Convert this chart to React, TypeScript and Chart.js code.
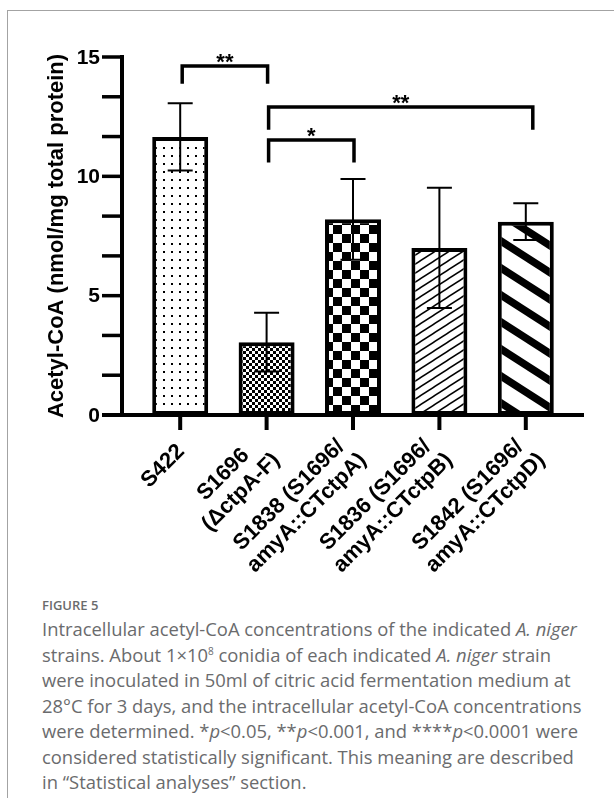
import React, { useEffect, useRef } from "react";
import { Chart, registerables } from "chart.js";
Chart.register(...registerables);

// ---- data ----
const categories: string[][] = [
  ["S422"],
  ["S1696", "(ΔctpA-F)"],
  ["S1838 (S1696/", "amyA::CTctpA)"],
  ["S1836 (S1696/", "amyA::CTctpB)"],
  ["S1842 (S1696/", "amyA::CTctpD)"],
];
const means = [11.65, 3.05, 8.2, 7.0, 8.1];
const sds = [1.41, 1.23, 1.69, 2.52, 0.77];
const yTickLabels = [0, 5, 10, 15];
const yMinorPerMajor = 3;
const yMax = 15;
const yTitle = "Acetyl-CoA (nmol/mg total protein)";
// significance brackets
const bracketFrom = [0, 1, 1];
const bracketTo = [1, 4, 2];
const bracketLevel = [14.62, 12.9, 11.52];
const bracketLegEnd = [13.88, 11.95, 10.58];
const bracketLabels = ["**", "**", "*"];

const FONT = '"Liberation Sans", Arial, sans-serif';

function tile(w: number, h: number, draw: (c: CanvasRenderingContext2D) => void) {
  const cv = document.createElement("canvas");
  cv.width = w;
  cv.height = h;
  const c = cv.getContext("2d")!;
  c.fillStyle = "#fff";
  c.fillRect(0, 0, w, h);
  c.fillStyle = "#000";
  c.strokeStyle = "#000";
  draw(c);
  return cv;
}

function makePatterns(ctx: CanvasRenderingContext2D) {
  const dots = tile(8, 8, (c) => c.fillRect(3, 3, 2, 2));
  const fine = tile(6, 6, (c) => {
    c.fillRect(0, 0, 3, 3);
    c.fillRect(3, 3, 3, 3);
  });
  const coarse = tile(18, 18, (c) => {
    c.fillRect(0, 0, 9, 9);
    c.fillRect(9, 9, 9, 9);
  });
  const thin = tile(14, 9, (c) => {
    c.lineWidth = 1.5;
    for (const dy of [-9, 0, 9]) {
      c.beginPath();
      c.moveTo(-14, 18 + dy);
      c.lineTo(28, -9 + dy);
      c.stroke();
    }
  });
  const thick = tile(42, 27, (c) => {
    c.lineWidth = 7.5;
    for (const dy of [-27, 0, 27]) {
      c.beginPath();
      c.moveTo(-42, -27 + dy);
      c.lineTo(84, 54 + dy);
      c.stroke();
    }
  });
  return [dots, fine, coarse, thin, thick].map((t) => ctx.createPattern(t, "repeat")!);
}

const overlay = {
  id: "overlay",
  afterDatasetsDraw(chart: any) {
    const { ctx, chartArea } = chart;
    const x = chart.scales.x;
    const y = chart.scales.y;
    const y0 = y.getPixelForValue(0);
    const axisX = chartArea.left - 15;
    const axisRight = chartArea.right + 15;
    ctx.save();
    ctx.strokeStyle = "#000";
    ctx.fillStyle = "#000";
    ctx.lineCap = "butt";

    // error bars
    ctx.lineWidth = 2;
    means.forEach((m, i) => {
      const cx = x.getPixelForValue(i);
      const t = y.getPixelForValue(m + sds[i]);
      const b = y.getPixelForValue(m - sds[i]);
      ctx.beginPath();
      ctx.moveTo(cx, t);
      ctx.lineTo(cx, b);
      ctx.moveTo(cx - 12.5, t);
      ctx.lineTo(cx + 12.5, t);
      ctx.moveTo(cx - 12.5, b);
      ctx.lineTo(cx + 12.5, b);
      ctx.stroke();
    });

    // y axis
    ctx.lineWidth = 4;
    ctx.beginPath();
    ctx.moveTo(axisX, y.getPixelForValue(yMax) - 2);
    ctx.lineTo(axisX, y0 + 2);
    ctx.stroke();
    const step = (yTickLabels[1] - yTickLabels[0]) / yMinorPerMajor;
    ctx.lineWidth = 3.5;
    for (let v = 0; v <= yMax + 1e-6; v += step) {
      const py = y.getPixelForValue(v);
      ctx.beginPath();
      ctx.moveTo(axisX - 20, py);
      ctx.lineTo(axisX, py);
      ctx.stroke();
    }
    ctx.font = `bold 21px ${FONT}`;
    ctx.textAlign = "right";
    ctx.textBaseline = "middle";
    yTickLabels.forEach((v) => {
      ctx.fillText(String(v), axisX - 22, y.getPixelForValue(v) + 1);
    });

    // x axis
    ctx.lineWidth = 4;
    ctx.beginPath();
    ctx.moveTo(axisX - 20, y0);
    ctx.lineTo(axisRight, y0);
    ctx.stroke();
    categories.forEach((_, i) => {
      const cx = x.getPixelForValue(i);
      ctx.beginPath();
      ctx.moveTo(cx, y0);
      ctx.lineTo(cx, y0 + 15);
      ctx.stroke();
    });

    // x labels
    ctx.font = `bold 22px ${FONT}`;
    ctx.textAlign = "center";
    ctx.textBaseline = "middle";
    const L = 25;
    categories.forEach((lines, i) => {
      const cx = x.getPixelForValue(i);
      const W = Math.max(...lines.map((s) => ctx.measureText(s).width));
      const H = lines.length * L;
      ctx.save();
      ctx.translate(cx + 1 + (i === 4 ? 6 : 0), y0 + 33);
      ctx.rotate(-Math.PI / 4);
      lines.forEach((s, j) => {
        ctx.fillText(s, -W / 2, -H / 2 + (j + 0.5) * L);
      });
      ctx.restore();
    });

    // y title
    ctx.save();
    ctx.font = `bold 22px ${FONT}`;
    ctx.textAlign = "center";
    ctx.textBaseline = "alphabetic";
    ctx.translate(63, (y.getPixelForValue(yMax) + y0) / 2 + 0);
    ctx.rotate(-Math.PI / 2);
    ctx.fillText(yTitle, 0, 0);
    ctx.restore();

    // brackets
    ctx.lineWidth = 3.5;
    ctx.font = `bold 22px ${FONT}`;
    ctx.textAlign = "center";
    ctx.textBaseline = "alphabetic";
    bracketFrom.forEach((f, k) => {
      const xa = x.getPixelForValue(f) + 2;
      const xb = x.getPixelForValue(bracketTo[k]) + (bracketTo[k] === 4 ? 7 : 1);
      const py = y.getPixelForValue(bracketLevel[k]);
      const pe = y.getPixelForValue(bracketLegEnd[k]);
      ctx.beginPath();
      ctx.moveTo(xa, pe);
      ctx.lineTo(xa, py);
      ctx.lineTo(xb, py);
      ctx.lineTo(xb, pe);
      ctx.stroke();
      ctx.fillText(bracketLabels[k], (xa + xb) / 2, py + 3);
    });
    ctx.restore();
  },
};

function FigureChart() {
  const ref = useRef<HTMLCanvasElement>(null);
  useEffect(() => {
    const canvas = ref.current!;
    const ctx = canvas.getContext("2d")!;
    const patterns = makePatterns(ctx);
    const chart = new Chart(canvas, {
      type: "bar",
      data: {
        labels: categories.map((c) => c.join(" ")),
        datasets: [
          {
            data: means,
            backgroundColor: patterns as any,
            borderColor: "#000",
            borderWidth: 4,
            borderSkipped: false,
            categoryPercentage: 1,
            barPercentage: 0.648,
          },
        ],
      },
      options: {
        animation: false,
        responsive: false,
        devicePixelRatio: 1,
        layout: { padding: { left: 137, right: 45, top: 57, bottom: 175 } },
        plugins: { legend: { display: false }, tooltip: { enabled: false } },
        scales: {
          x: { display: false, offset: true },
          y: { display: false, min: 0, max: yMax },
        },
      },
      plugins: [overlay],
    });
    return () => chart.destroy();
  }, []);
  return (
    <canvas
      ref={ref}
      width={614}
      height={590}
      style={{ position: "absolute", left: 0, top: 0, width: 614, height: 590 }}
    />
  );
}

const captionLine: React.CSSProperties = { whiteSpace: "nowrap", height: 25.5 };

export default function App() {
  return (
    <div
      style={{
        position: "fixed",
        left: 0,
        top: 0,
        width: 614,
        height: 798,
        overflow: "hidden",
        background: "#fff",
      }}
    >
      <div
        style={{
          position: "absolute",
          left: 7,
          top: 10,
          width: 700,
          height: 900,
          border: "1px solid #a3a3a3",
        }}
      />
      <FigureChart />
      <div
        style={{
          position: "absolute",
          left: 42,
          top: 596,
          fontFamily: '"Open Sans", sans-serif',
          color: "#6a6b6d",
        }}
      >
        <div style={{ fontSize: 13, fontWeight: 600, lineHeight: "18px", marginBottom: 2 }}>FIGURE 5</div>
        <div style={{ fontSize: 18.4, lineHeight: "25.5px" }}>
          <div style={captionLine}>
            Intracellular acetyl-CoA concentrations of the indicated <i>A. niger</i>
          </div>
          <div style={captionLine}>
            strains. About 1×10<sup style={{ fontSize: 10, lineHeight: 0 }}>8</sup> conidia of each indicated{" "}
            <i>A. niger</i> strain
          </div>
          <div style={captionLine}>were inoculated in 50ml of citric acid fermentation medium at</div>
          <div style={captionLine}>28°C for 3 days, and the intracellular acetyl-CoA concentrations</div>
          <div style={captionLine}>
            were determined. *<i>p</i>&lt;0.05, **<i>p</i>&lt;0.001, and ****<i>p</i>&lt;0.0001 were
          </div>
          <div style={captionLine}>considered statistically significant. This meaning are described</div>
          <div style={captionLine}>in “Statistical analyses” section.</div>
        </div>
      </div>
    </div>
  );
}
